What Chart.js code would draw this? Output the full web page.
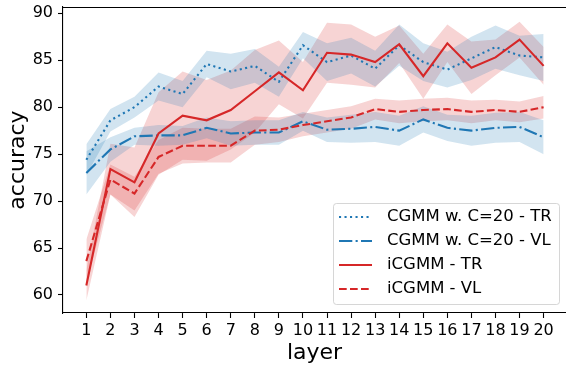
<!DOCTYPE html>
<html>
<head>
<meta charset="utf-8">
<script src="https://cdn.jsdelivr.net/npm/chart.js@4"></script>
<style>
  html, body { margin: 0; padding: 0; background: #fff; }
  canvas { display: block; }
</style>
</head>
<body>
<canvas id="chart" width="566" height="367"></canvas>
<script>
const layers = [1, 2, 3, 4, 5, 6, 7, 8, 9, 10, 11, 12, 13, 14, 15, 16, 17, 18, 19, 20];
const yTicks = [60, 65, 70, 75, 80, 85, 90];

// mean accuracy per layer, and the spread shown by the shaded band
const cgmmTrMean = [74.4, 78.6, 80.0, 82.2, 81.4, 84.6, 83.8, 84.4, 82.7, 86.6, 84.8, 85.5, 84.1, 86.6, 84.8, 84.0, 85.2, 86.4, 85.5, 85.3];
const cgmmTrStd = [1.65, 1.2, 1.1, 1.5, 1.4, 1.4, 1.9, 1.8, 1.6, 1.4, 2.0, 1.9, 1.9, 2.2, 2.0, 1.9, 2.3, 2.3, 2.1, 2.5];

const cgmmVlMean = [73.0, 75.5, 76.9, 77.0, 77.0, 77.8, 77.2, 77.3, 77.3, 78.5, 77.6, 77.7, 77.9, 77.5, 78.7, 77.8, 77.5, 77.8, 77.9, 76.8];
const cgmmVlStd = [2.3, 1.3, 0.9, 1.1, 1.0, 1.1, 1.3, 1.3, 1.3, 1.0, 1.3, 1.5, 1.6, 1.6, 1.4, 1.4, 1.6, 1.6, 1.6, 1.8];

const icgmmTrMean = [61.0, 73.4, 72.0, 77.2, 79.1, 78.6, 79.7, 81.7, 83.7, 81.8, 85.8, 85.6, 84.8, 86.7, 83.3, 86.8, 84.2, 85.3, 87.2, 84.4];
const icgmmTrStd = [1.6, 2.7, 3.7, 4.4, 4.7, 4.3, 4.2, 4.4, 3.4, 3.0, 3.2, 3.2, 2.7, 2.0, 2.4, 2.0, 2.8, 1.9, 1.9, 2.0];

const icgmmVlMean = [63.6, 72.3, 70.8, 74.7, 75.9, 75.9, 75.9, 77.5, 77.6, 78.1, 78.5, 78.9, 79.8, 79.5, 79.7, 79.8, 79.5, 79.7, 79.5, 80.0];
const icgmmVlStd = [2.3, 1.6, 1.8, 1.8, 1.9, 1.8, 1.8, 1.5, 1.3, 1.2, 1.2, 1.2, 1.1, 1.2, 1.2, 1.2, 1.2, 1.1, 1.1, 1.2];

const BLUE = '#1f77b4';
const RED = '#d62728';
const BLUE_BAND = 'rgba(31, 119, 180, 0.2)';
const RED_BAND = 'rgba(214, 39, 40, 0.2)';
const FONT = "'DejaVu Sans', 'Liberation Sans', sans-serif";

const series = [
  { label: 'CGMM w. C=20 - TR', mean: cgmmTrMean, std: cgmmTrStd, color: BLUE, band: BLUE_BAND, dash: [2.1, 3.4] },
  { label: 'CGMM w. C=20 - VL', mean: cgmmVlMean, std: cgmmVlStd, color: BLUE, band: BLUE_BAND, dash: [13.3, 3.3, 2.1, 3.3] },
  { label: 'iCGMM - TR', mean: icgmmTrMean, std: icgmmTrStd, color: RED, band: RED_BAND, dash: [] },
  { label: 'iCGMM - VL', mean: icgmmVlMean, std: icgmmVlStd, color: RED, band: RED_BAND, dash: [7.7, 3.3] },
];

const datasets = [];
series.forEach((s, i) => {
  datasets.push({
    label: s.label,
    data: s.mean,
    borderColor: s.color,
    borderWidth: 2.1,
    borderDash: s.dash,
    pointRadius: 0,
    fill: false,
    order: series.length - i,
  });
  datasets.push({
    data: s.mean.map((m, k) => m - s.std[k]),
    borderWidth: 0,
    pointRadius: 0,
    fill: false,
    order: 10,
  });
  datasets.push({
    data: s.mean.map((m, k) => m + s.std[k]),
    borderWidth: 0,
    pointRadius: 0,
    backgroundColor: s.band,
    fill: '-1',
    order: 10,
  });
});

// top spine and the boxed legend in the lower right corner
const frameAndLegend = {
  id: 'frameAndLegend',
  afterDraw(chart) {
    const { ctx, chartArea } = chart;
    ctx.save();
    ctx.strokeStyle = '#000';
    ctx.lineWidth = 1.1;
    ctx.beginPath();
    ctx.moveTo(chartArea.left, chartArea.top + 0.5);
    ctx.lineTo(chartArea.right, chartArea.top + 0.5);
    ctx.stroke();

    const w = 226;
    const h = 101;
    const x = chartArea.right - 7 - w;
    const y = chartArea.bottom - 9 - h;
    ctx.beginPath();
    ctx.roundRect(x + 0.5, y + 0.5, w, h, 3);
    ctx.fillStyle = 'rgba(255, 255, 255, 0.8)';
    ctx.fill();
    ctx.strokeStyle = 'rgba(204, 204, 204, 0.8)';
    ctx.lineWidth = 1;
    ctx.stroke();

    ctx.font = '16.5px ' + FONT;
    ctx.textBaseline = 'middle';
    ctx.textAlign = 'left';
    series.forEach((s, i) => {
      const ry = y + 14 + i * 24;
      ctx.beginPath();
      ctx.setLineDash(s.dash);
      ctx.strokeStyle = s.color;
      ctx.lineWidth = 2.1;
      ctx.moveTo(x + 6, ry);
      ctx.lineTo(x + 39, ry);
      ctx.stroke();
      ctx.setLineDash([]);
      ctx.fillStyle = '#000';
      ctx.fillText(s.label, x + 54, ry);
    });
    ctx.restore();
  },
};

new Chart(document.getElementById('chart'), {
  type: 'line',
  data: { labels: layers, datasets },
  options: {
    responsive: false,
    animation: false,
    devicePixelRatio: 1,
    events: [],
    layout: { padding: { top: 7, right: 0, bottom: 0, left: 0 } },
    elements: { line: { tension: 0 } },
    plugins: {
      legend: { display: false },
      tooltip: { enabled: false },
      filler: { drawTime: 'beforeDatasetsDraw' },
    },
    scales: {
      x: {
        type: 'linear',
        min: 0.03,
        max: 20.93,
        afterBuildTicks: (scale) => { scale.ticks = layers.map((v) => ({ value: v })); },
        afterFit: (scale) => {
          scale.height = 54;
          scale.paddingLeft = 0;
          scale.paddingRight = 0;
        },
        grid: { drawOnChartArea: false, drawTicks: true, tickLength: 5, tickColor: '#000', tickWidth: 1.1 },
        border: { display: true, color: '#000', width: 1.1 },
        ticks: { color: '#000', font: { family: FONT, size: 16 }, padding: 3, maxRotation: 0, autoSkip: false },
        title: { display: true, text: 'layer', color: '#000', font: { family: FONT, size: 22 }, padding: { top: 0, bottom: 1 } },
      },
      y: {
        min: 58.08,
        max: 90.67,
        afterBuildTicks: (scale) => { scale.ticks = yTicks.map((v) => ({ value: v })); },
        afterFit: (scale) => {
          scale.width = 63;
          scale.paddingTop = 0;
          scale.paddingBottom = 0;
        },
        grid: { drawOnChartArea: false, drawTicks: true, tickLength: 5, tickColor: '#000', tickWidth: 1.1 },
        border: { display: true, color: '#000', width: 1.1 },
        ticks: { color: '#000', font: { family: FONT, size: 16 }, padding: 5 },
        title: { display: true, text: 'accuracy', color: '#000', font: { family: FONT, size: 22 }, padding: { top: 5, bottom: 0 } },
      },
    },
  },
  plugins: [frameAndLegend],
});
</script>
</body>
</html>
